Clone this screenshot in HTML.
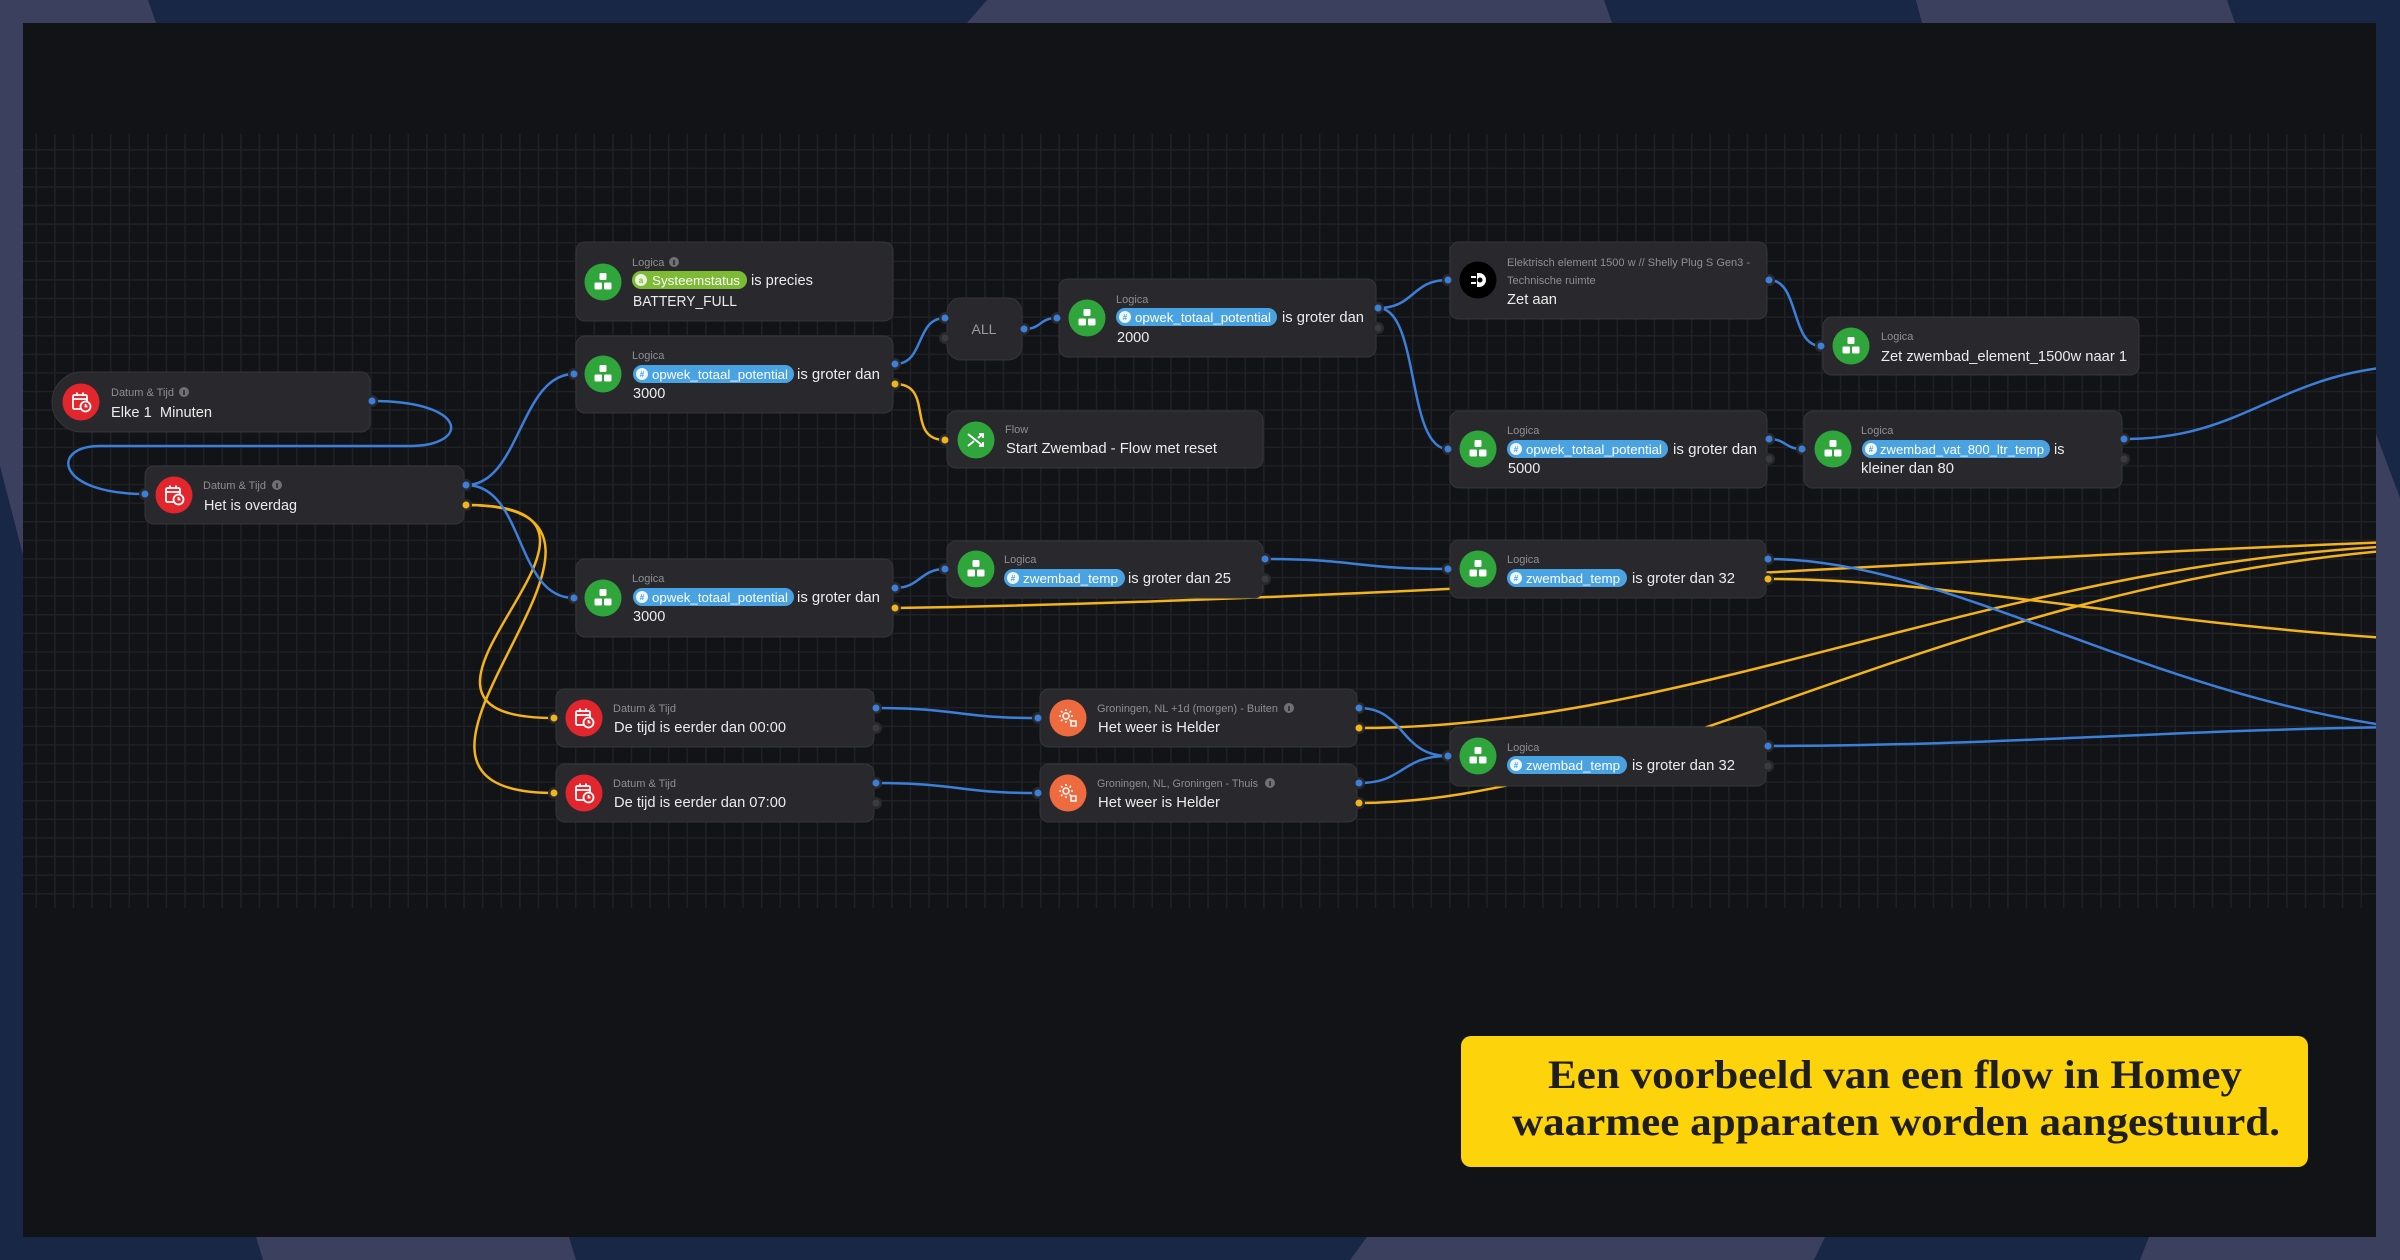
<!DOCTYPE html>
<html><head><meta charset="utf-8"><style>
html,body{margin:0;padding:0;background:#182745;width:2400px;height:1260px;overflow:hidden}
svg{display:block}
</style></head><body>
<svg width="2400" height="1260" viewBox="0 0 2400 1260" xmlns="http://www.w3.org/2000/svg">
<defs>
<pattern id="grid" x="35.5" y="130.4" width="18.6" height="18.6" patternUnits="userSpaceOnUse">
<path d="M0,0.75 H18.6 M0.75,0 V18.6" stroke="#1f2126" stroke-width="1.5" fill="none"/>
</pattern>
<clipPath id="cv"><rect x="23" y="23" width="2353" height="1214"/></clipPath>
</defs>
<!-- background -->
<rect x="0" y="0" width="2400" height="1260" fill="#182745"/>
<polygon points="0,0 148,0 156,23 23,23 23,555 0,466" fill="#3c405f"/>
<polygon points="987,0 1604,0 1612,23 967,23" fill="#3c405f"/>
<polygon points="1916,0 2227,0 2235,23 1922,23" fill="#3c405f"/>
<polygon points="2376,434 2400,498 2400,1260 2140,1260 2149,1237 2376,1237" fill="#3c405f"/>
<polygon points="256,1237 569,1237 576,1260 263,1260" fill="#3c405f"/>
<polygon points="1367,1237 1825,1237 1814,1260 1350,1260" fill="#3c405f"/>
<!-- canvas -->
<rect x="23" y="23" width="2353" height="1214" fill="#121317"/>
<rect x="23" y="134" width="2353" height="774" fill="url(#grid)"/>

<!-- connectors -->
<g clip-path="url(#cv)" fill="none" stroke-width="2.5" stroke-linecap="round">
<g stroke="#f2b31b">
<path d="M466,505 C680,505 340,718 554,718"/>
<path d="M466,505 C700,505 320,793 554,793"/>
<path d="M895,384 C935,384 905,440 945,440"/>
<path d="M895,608 C1400,600 1900,560 2420,541"/>
<path d="M1768,579 C1950,579 2150,625 2420,640"/>
<path d="M1359,728 C1700,728 2000,560 2420,545"/>
<path d="M1359,803 C1650,801 1950,580 2420,548"/>
</g>
<g stroke="#3c7fd9">
<path d="M372,401 C470,401 470,446 410,446 L100,446 C50,446 55,494 145,494"/>
<path d="M466,485 C520,485 520,374 574,374"/>
<path d="M466,485 C525,485 515,598 574,598"/>
<path d="M895,364 C925,364 915,318 945,318"/>
<path d="M1024,329 C1042,329 1039,318 1057,318"/>
<path d="M1378,308 C1415,308 1411,280 1448,280"/>
<path d="M1378,308 C1420,308 1406,449 1448,449"/>
<path d="M1769,280 C1800,280 1790,346 1821,346"/>
<path d="M1769,439 C1786,439 1785,449 1802,449"/>
<path d="M2124,439 C2250,439 2280,368 2420,365"/>
<path d="M895,588 C920,588 920,569 945,569"/>
<path d="M1265,559 C1356,559 1356,569 1448,569"/>
<path d="M1768,559 C1950,559 2150,700 2420,730"/>
<path d="M876,708 C960,708 955,718 1038,718"/>
<path d="M876,783 C960,783 955,793 1038,793"/>
<path d="M1359,708 C1405,708 1400,756 1448,756"/>
<path d="M1359,783 C1405,783 1400,756 1448,756"/>
<path d="M1768,746 C2000,746 2200,728 2420,727"/>
</g>
</g>

<!-- nodes -->
<g fill="#29292d" stroke="#35363a" stroke-width="1">
<path d="M82,372 H361 a9,9 0 0 1 9,9 V423 a9,9 0 0 1 -9,9 H82 a30,30 0 0 1 0,-60 Z"/>
<rect x="145" y="466" width="319" height="58" rx="9"/>
<rect x="576" y="242" width="317" height="79" rx="9"/>
<rect x="576" y="336" width="317" height="77" rx="9"/>
<rect x="947" y="298" width="75" height="62" rx="14"/>
<rect x="1059" y="279" width="317" height="78" rx="9"/>
<rect x="947" y="411" width="316" height="57" rx="9"/>
<rect x="576" y="559" width="317" height="78" rx="9"/>
<rect x="947" y="541" width="316" height="57" rx="9"/>
<rect x="1450" y="242" width="317" height="77" rx="9"/>
<rect x="1823" y="317" width="316" height="58" rx="9"/>
<rect x="1450" y="411" width="317" height="77" rx="9"/>
<rect x="1804" y="411" width="318" height="77" rx="9"/>
<rect x="1450" y="540" width="316" height="58" rx="9"/>
<rect x="556" y="689" width="318" height="58" rx="9"/>
<rect x="556" y="764" width="318" height="58" rx="9"/>
<rect x="1040" y="689" width="317" height="58" rx="9"/>
<rect x="1040" y="764" width="317" height="58" rx="9"/>
<rect x="1450" y="727" width="316" height="59" rx="9"/>
</g>

<!-- icon circles -->
<g>
<circle cx="81" cy="402" r="18.5" fill="#e3262e"/>
<circle cx="174" cy="495" r="18.5" fill="#e3262e"/>
<circle cx="584" cy="718" r="18.5" fill="#e3262e"/>
<circle cx="584" cy="793" r="18.5" fill="#e3262e"/>
<circle cx="603" cy="282" r="18.5" fill="#2fa53c"/>
<circle cx="603" cy="374" r="18.5" fill="#2fa53c"/>
<circle cx="1087" cy="318" r="18.5" fill="#2fa53c"/>
<circle cx="976" cy="440" r="18.5" fill="#2fa53c"/>
<circle cx="603" cy="598" r="18.5" fill="#2fa53c"/>
<circle cx="976" cy="569" r="18.5" fill="#2fa53c"/>
<circle cx="1478" cy="280" r="18.5" fill="#000"/>
<circle cx="1851" cy="346" r="18.5" fill="#2fa53c"/>
<circle cx="1478" cy="449" r="18.5" fill="#2fa53c"/>
<circle cx="1833" cy="449" r="18.5" fill="#2fa53c"/>
<circle cx="1478" cy="569" r="18.5" fill="#2fa53c"/>
<circle cx="1478" cy="756" r="18.5" fill="#2fa53c"/>
<circle cx="1068" cy="718" r="18.5" fill="#ee6b3f"/>
<circle cx="1068" cy="793" r="18.5" fill="#ee6b3f"/>
</g>

<!-- logica glyphs -->
<g fill="#fff">
<g transform="translate(603,282)"><rect x="-3.5" y="-9" width="7" height="7" rx="1.2"/><rect x="-8.5" y="0.5" width="7.5" height="7" rx="1.2"/><rect x="1" y="0.5" width="7.5" height="7" rx="1.2"/></g>
<g transform="translate(603,374)"><rect x="-3.5" y="-9" width="7" height="7" rx="1.2"/><rect x="-8.5" y="0.5" width="7.5" height="7" rx="1.2"/><rect x="1" y="0.5" width="7.5" height="7" rx="1.2"/></g>
<g transform="translate(1087,318)"><rect x="-3.5" y="-9" width="7" height="7" rx="1.2"/><rect x="-8.5" y="0.5" width="7.5" height="7" rx="1.2"/><rect x="1" y="0.5" width="7.5" height="7" rx="1.2"/></g>
<g transform="translate(603,598)"><rect x="-3.5" y="-9" width="7" height="7" rx="1.2"/><rect x="-8.5" y="0.5" width="7.5" height="7" rx="1.2"/><rect x="1" y="0.5" width="7.5" height="7" rx="1.2"/></g>
<g transform="translate(976,569)"><rect x="-3.5" y="-9" width="7" height="7" rx="1.2"/><rect x="-8.5" y="0.5" width="7.5" height="7" rx="1.2"/><rect x="1" y="0.5" width="7.5" height="7" rx="1.2"/></g>
<g transform="translate(1851,346)"><rect x="-3.5" y="-9" width="7" height="7" rx="1.2"/><rect x="-8.5" y="0.5" width="7.5" height="7" rx="1.2"/><rect x="1" y="0.5" width="7.5" height="7" rx="1.2"/></g>
<g transform="translate(1478,449)"><rect x="-3.5" y="-9" width="7" height="7" rx="1.2"/><rect x="-8.5" y="0.5" width="7.5" height="7" rx="1.2"/><rect x="1" y="0.5" width="7.5" height="7" rx="1.2"/></g>
<g transform="translate(1833,449)"><rect x="-3.5" y="-9" width="7" height="7" rx="1.2"/><rect x="-8.5" y="0.5" width="7.5" height="7" rx="1.2"/><rect x="1" y="0.5" width="7.5" height="7" rx="1.2"/></g>
<g transform="translate(1478,569)"><rect x="-3.5" y="-9" width="7" height="7" rx="1.2"/><rect x="-8.5" y="0.5" width="7.5" height="7" rx="1.2"/><rect x="1" y="0.5" width="7.5" height="7" rx="1.2"/></g>
<g transform="translate(1478,756)"><rect x="-3.5" y="-9" width="7" height="7" rx="1.2"/><rect x="-8.5" y="0.5" width="7.5" height="7" rx="1.2"/><rect x="1" y="0.5" width="7.5" height="7" rx="1.2"/></g>
</g>

<!-- calendar glyphs -->
<g fill="none" stroke="#fff" stroke-width="1.8">
<g transform="translate(81,402)"><rect x="-8" y="-7" width="14" height="14" rx="1.5"/><line x1="-8" y1="-3" x2="6" y2="-3"/><line x1="-4" y1="-9.5" x2="-4" y2="-6"/><line x1="2" y1="-9.5" x2="2" y2="-6"/><circle cx="4.5" cy="4.5" r="5" fill="#e3262e"/><path d="M4.5,2 V4.5 H6.5"/></g>
<g transform="translate(174,495)"><rect x="-8" y="-7" width="14" height="14" rx="1.5"/><line x1="-8" y1="-3" x2="6" y2="-3"/><line x1="-4" y1="-9.5" x2="-4" y2="-6"/><line x1="2" y1="-9.5" x2="2" y2="-6"/><circle cx="4.5" cy="4.5" r="5" fill="#e3262e"/><path d="M4.5,2 V4.5 H6.5"/></g>
<g transform="translate(584,718)"><rect x="-8" y="-7" width="14" height="14" rx="1.5"/><line x1="-8" y1="-3" x2="6" y2="-3"/><line x1="-4" y1="-9.5" x2="-4" y2="-6"/><line x1="2" y1="-9.5" x2="2" y2="-6"/><circle cx="4.5" cy="4.5" r="5" fill="#e3262e"/><path d="M4.5,2 V4.5 H6.5"/></g>
<g transform="translate(584,793)"><rect x="-8" y="-7" width="14" height="14" rx="1.5"/><line x1="-8" y1="-3" x2="6" y2="-3"/><line x1="-4" y1="-9.5" x2="-4" y2="-6"/><line x1="2" y1="-9.5" x2="2" y2="-6"/><circle cx="4.5" cy="4.5" r="5" fill="#e3262e"/><path d="M4.5,2 V4.5 H6.5"/></g>
<!-- flow glyph -->
<g transform="translate(976,440)" stroke-width="2"><path d="M-8,-6 L7,6 M-8,6 L-2,1 M2,-2 L7,-6 M3,-6 H7 V-2 M3,6 H7 V2"/></g>
<!-- weather glyphs -->
<g transform="translate(1068,718)" stroke-width="1.5"><circle cx="-2" cy="-2" r="3"/><path d="M-2,-9 V-7 M-2,3 V5 M-9,-2 H-7 M3,-2 H5 M-7,-7 L-5.5,-5.5 M1.5,1.5 L3,3 M-7,3 L-5.5,1.5 M1.5,-5.5 L3,-7"/><rect x="3" y="3" width="5" height="5"/></g>
<g transform="translate(1068,793)" stroke-width="1.5"><circle cx="-2" cy="-2" r="3"/><path d="M-2,-9 V-7 M-2,3 V5 M-9,-2 H-7 M3,-2 H5 M-7,-7 L-5.5,-5.5 M1.5,1.5 L3,3 M-7,3 L-5.5,1.5 M1.5,-5.5 L3,-7"/><rect x="3" y="3" width="5" height="5"/></g>
</g>
<!-- plug glyph -->
<g transform="translate(1478,280)" fill="#fff"><path d="M-1,-7 H1 A7,7 0 0 1 1,7 H-1 Z"/><rect x="-7" y="-4" width="5" height="2"/><rect x="-7" y="2" width="5" height="2"/><circle cx="2" cy="0" r="2.5" fill="#000"/></g>

<!-- info icons -->
<g>
<circle cx="184" cy="392" r="5" fill="#707175"/><rect x="183.2" y="390" width="1.6" height="5" fill="#29292d"/>
<circle cx="277" cy="485" r="5" fill="#707175"/><rect x="276.2" y="483" width="1.6" height="5" fill="#29292d"/>
<circle cx="674" cy="262" r="5" fill="#707175"/><rect x="673.2" y="260" width="1.6" height="5" fill="#29292d"/>
<circle cx="1289" cy="708" r="5" fill="#707175"/><rect x="1288.2" y="706" width="1.6" height="5" fill="#29292d"/>
<circle cx="1270" cy="783" r="5" fill="#707175"/><rect x="1269.2" y="781" width="1.6" height="5" fill="#29292d"/>
</g>

<!-- pills -->
<g>
<rect x="632" y="271" width="115" height="18" rx="9" fill="#7dbb35"/>
<rect x="633" y="365" width="161" height="18" rx="9" fill="#49a2e2"/>
<rect x="1116" y="308" width="161" height="18" rx="9" fill="#49a2e2"/>
<rect x="633" y="588" width="161" height="18" rx="9" fill="#49a2e2"/>
<rect x="1004" y="569" width="121" height="18" rx="9" fill="#49a2e2"/>
<rect x="1507" y="440" width="161" height="18" rx="9" fill="#49a2e2"/>
<rect x="1862" y="440" width="188" height="18" rx="9" fill="#49a2e2"/>
<rect x="1507" y="569" width="120" height="18" rx="9" fill="#49a2e2"/>
<rect x="1507" y="756" width="120" height="18" rx="9" fill="#49a2e2"/>
</g>
<g fill="#eef6ff">
<circle cx="641" cy="280" r="6" fill="#e9f5dc"/>
<circle cx="642" cy="374" r="6"/>
<circle cx="1125" cy="317" r="6"/>
<circle cx="642" cy="597" r="6"/>
<circle cx="1013" cy="578" r="6"/>
<circle cx="1516" cy="449" r="6"/>
<circle cx="1871" cy="449" r="6"/>
<circle cx="1516" cy="578" r="6"/>
<circle cx="1516" cy="765" r="6"/>
</g>
<g font-family="Liberation Sans, sans-serif" font-size="8" font-weight="bold" text-anchor="middle">
<text x="641" y="283" fill="#7dbb35">a</text>
<text x="642" y="377" fill="#49a2e2">#</text>
<text x="1125" y="320" fill="#49a2e2">#</text>
<text x="642" y="600" fill="#49a2e2">#</text>
<text x="1013" y="581" fill="#49a2e2">#</text>
<text x="1516" y="452" fill="#49a2e2">#</text>
<text x="1871" y="452" fill="#49a2e2">#</text>
<text x="1516" y="581" fill="#49a2e2">#</text>
<text x="1516" y="768" fill="#49a2e2">#</text>
</g>

<!-- pill text -->
<g font-family="Liberation Sans, sans-serif" font-size="13" fill="#ffffff" lengthAdjust="spacingAndGlyphs">
<text x="652" y="285" textLength="88" lengthAdjust="spacingAndGlyphs">Systeemstatus</text>
<text x="652" y="379" textLength="136" lengthAdjust="spacingAndGlyphs">opwek_totaal_potential</text>
<text x="1135" y="322" textLength="136" lengthAdjust="spacingAndGlyphs">opwek_totaal_potential</text>
<text x="652" y="602" textLength="136" lengthAdjust="spacingAndGlyphs">opwek_totaal_potential</text>
<text x="1023" y="583" textLength="95" lengthAdjust="spacingAndGlyphs">zwembad_temp</text>
<text x="1526" y="454" textLength="136" lengthAdjust="spacingAndGlyphs">opwek_totaal_potential</text>
<text x="1880" y="454" textLength="164" lengthAdjust="spacingAndGlyphs">zwembad_vat_800_ltr_temp</text>
<text x="1526" y="583" textLength="94" lengthAdjust="spacingAndGlyphs">zwembad_temp</text>
<text x="1526" y="770" textLength="94" lengthAdjust="spacingAndGlyphs">zwembad_temp</text>
</g>

<!-- labels -->
<g font-family="Liberation Sans, sans-serif" font-size="11" fill="#8e8f93">
<text x="111" y="396">Datum &amp; Tijd</text>
<text x="203" y="489">Datum &amp; Tijd</text>
<text x="632" y="266">Logica</text>
<text x="632" y="359">Logica</text>
<text x="1116" y="303">Logica</text>
<text x="1005" y="433">Flow</text>
<text x="632" y="582">Logica</text>
<text x="1004" y="563">Logica</text>
<text x="1507" y="266" textLength="243" lengthAdjust="spacingAndGlyphs">Elektrisch element 1500 w // Shelly Plug S Gen3 -</text>
<text x="1507" y="284">Technische ruimte</text>
<text x="1881" y="340">Logica</text>
<text x="1507" y="434">Logica</text>
<text x="1861" y="434">Logica</text>
<text x="1507" y="563">Logica</text>
<text x="613" y="712">Datum &amp; Tijd</text>
<text x="613" y="787">Datum &amp; Tijd</text>
<text x="1097" y="712" textLength="181" lengthAdjust="spacingAndGlyphs">Groningen, NL +1d (morgen) - Buiten</text>
<text x="1097" y="787" textLength="161" lengthAdjust="spacingAndGlyphs">Groningen, NL, Groningen - Thuis</text>
<text x="1507" y="751">Logica</text>
</g>

<!-- main text -->
<g font-family="Liberation Sans, sans-serif" font-size="14.5" fill="#ececec">
<text x="111" y="417" textLength="101" lengthAdjust="spacingAndGlyphs" xml:space="preserve">Elke 1  Minuten</text>
<text x="204" y="510" textLength="93" lengthAdjust="spacingAndGlyphs">Het is overdag</text>
<text x="751" y="285" textLength="62" lengthAdjust="spacingAndGlyphs">is precies</text>
<text x="633" y="306" textLength="104" lengthAdjust="spacingAndGlyphs">BATTERY_FULL</text>
<text x="797" y="379" textLength="83" lengthAdjust="spacingAndGlyphs">is groter dan</text>
<text x="633" y="398">3000</text>
<text x="1282" y="322" textLength="82" lengthAdjust="spacingAndGlyphs">is groter dan</text>
<text x="1117" y="342">2000</text>
<text x="1006" y="453" textLength="211" lengthAdjust="spacingAndGlyphs">Start Zwembad - Flow met reset</text>
<text x="797" y="602" textLength="83" lengthAdjust="spacingAndGlyphs">is groter dan</text>
<text x="633" y="621">3000</text>
<text x="1128" y="583" textLength="103" lengthAdjust="spacingAndGlyphs">is groter dan 25</text>
<text x="1507" y="304" textLength="50" lengthAdjust="spacingAndGlyphs">Zet aan</text>
<text x="1881" y="361" textLength="246" lengthAdjust="spacingAndGlyphs">Zet zwembad_element_1500w naar 1</text>
<text x="1673" y="454" textLength="84" lengthAdjust="spacingAndGlyphs">is groter dan</text>
<text x="1508" y="473">5000</text>
<text x="2054" y="454">is</text>
<text x="1861" y="473" textLength="93" lengthAdjust="spacingAndGlyphs">kleiner dan 80</text>
<text x="1632" y="583" textLength="103" lengthAdjust="spacingAndGlyphs">is groter dan 32</text>
<text x="614" y="732" textLength="172" lengthAdjust="spacingAndGlyphs">De tijd is eerder dan 00:00</text>
<text x="614" y="807" textLength="172" lengthAdjust="spacingAndGlyphs">De tijd is eerder dan 07:00</text>
<text x="1098" y="732" textLength="122" lengthAdjust="spacingAndGlyphs">Het weer is Helder</text>
<text x="1098" y="807" textLength="122" lengthAdjust="spacingAndGlyphs">Het weer is Helder</text>
<text x="1632" y="770" textLength="103" lengthAdjust="spacingAndGlyphs">is groter dan 32</text>
</g>
<text x="984" y="334" font-family="Liberation Sans, sans-serif" font-size="14" fill="#9b9c9f" text-anchor="middle">ALL</text>

<!-- sockets -->
<g fill="#29292d">
<circle cx="372" cy="401" r="6"/>
<circle cx="145" cy="494" r="6"/><circle cx="466" cy="485" r="6"/><circle cx="466" cy="505" r="6"/>
<circle cx="574" cy="374" r="6"/><circle cx="895" cy="364" r="6"/><circle cx="895" cy="384" r="6"/>
<circle cx="945" cy="318" r="6"/><circle cx="945" cy="338" r="6"/><circle cx="1024" cy="329" r="6"/>
<circle cx="1057" cy="318" r="6"/><circle cx="1378" cy="308" r="6"/><circle cx="1378" cy="328" r="6"/>
<circle cx="945" cy="440" r="6"/>
<circle cx="574" cy="598" r="6"/><circle cx="895" cy="588" r="6"/><circle cx="895" cy="608" r="6"/>
<circle cx="945" cy="569" r="6"/><circle cx="1265" cy="559" r="6"/><circle cx="1265" cy="579" r="6"/>
<circle cx="1448" cy="280" r="6"/><circle cx="1769" cy="280" r="6"/>
<circle cx="1821" cy="346" r="6"/>
<circle cx="1448" cy="449" r="6"/><circle cx="1769" cy="439" r="6"/><circle cx="1769" cy="459" r="6"/>
<circle cx="1802" cy="449" r="6"/><circle cx="2124" cy="439" r="6"/><circle cx="2124" cy="459" r="6"/>
<circle cx="1448" cy="569" r="6"/><circle cx="1768" cy="559" r="6"/><circle cx="1768" cy="579" r="6"/>
<circle cx="554" cy="718" r="6"/><circle cx="876" cy="708" r="6"/><circle cx="876" cy="728" r="6"/>
<circle cx="554" cy="793" r="6"/><circle cx="876" cy="783" r="6"/><circle cx="876" cy="803" r="6"/>
<circle cx="1038" cy="718" r="6"/><circle cx="1359" cy="708" r="6"/><circle cx="1359" cy="728" r="6"/>
<circle cx="1038" cy="793" r="6"/><circle cx="1359" cy="783" r="6"/><circle cx="1359" cy="803" r="6"/>
<circle cx="1448" cy="756" r="6"/><circle cx="1768" cy="746" r="6"/><circle cx="1768" cy="766" r="6"/>
</g>
<g fill="#3c7fd9">
<circle cx="372" cy="401" r="3.5"/>
<circle cx="145" cy="494" r="3.5"/><circle cx="466" cy="485" r="3.5"/>
<circle cx="574" cy="374" r="3.5"/><circle cx="895" cy="364" r="3.5"/>
<circle cx="945" cy="318" r="3.5"/><circle cx="1024" cy="329" r="3.5"/>
<circle cx="1057" cy="318" r="3.5"/><circle cx="1378" cy="308" r="3.5"/>
<circle cx="574" cy="598" r="3.5"/><circle cx="895" cy="588" r="3.5"/>
<circle cx="945" cy="569" r="3.5"/><circle cx="1265" cy="559" r="3.5"/>
<circle cx="1448" cy="280" r="3.5"/><circle cx="1769" cy="280" r="3.5"/>
<circle cx="1821" cy="346" r="3.5"/>
<circle cx="1448" cy="449" r="3.5"/><circle cx="1769" cy="439" r="3.5"/>
<circle cx="1802" cy="449" r="3.5"/><circle cx="2124" cy="439" r="3.5"/>
<circle cx="1448" cy="569" r="3.5"/><circle cx="1768" cy="559" r="3.5"/>
<circle cx="876" cy="708" r="3.5"/><circle cx="876" cy="783" r="3.5"/>
<circle cx="1038" cy="718" r="3.5"/><circle cx="1359" cy="708" r="3.5"/>
<circle cx="1038" cy="793" r="3.5"/><circle cx="1359" cy="783" r="3.5"/>
<circle cx="1448" cy="756" r="3.5"/><circle cx="1768" cy="746" r="3.5"/>
</g>
<g fill="#f2b31b">
<circle cx="466" cy="505" r="3.5"/><circle cx="895" cy="384" r="3.5"/><circle cx="945" cy="440" r="3.5"/>
<circle cx="895" cy="608" r="3.5"/><circle cx="1768" cy="579" r="3.5"/>
<circle cx="554" cy="718" r="3.5"/><circle cx="554" cy="793" r="3.5"/>
<circle cx="1359" cy="728" r="3.5"/><circle cx="1359" cy="803" r="3.5"/>
</g>
<g fill="#3a3b40">
<circle cx="945" cy="338" r="3.5"/><circle cx="1378" cy="328" r="3.5"/><circle cx="1265" cy="579" r="3.5"/>
<circle cx="1769" cy="459" r="3.5"/><circle cx="2124" cy="459" r="3.5"/>
<circle cx="876" cy="728" r="3.5"/><circle cx="876" cy="803" r="3.5"/><circle cx="1768" cy="766" r="3.5"/>
</g>

<!-- callout -->
<rect x="1461" y="1036" width="847" height="131" rx="10" fill="#fdd30b"/>
<g font-family="Liberation Serif, serif" font-weight="bold" font-size="40" fill="#1e1e1e">
<text x="1548" y="1088" textLength="694" lengthAdjust="spacingAndGlyphs">Een voorbeeld van een flow in Homey</text>
<text x="1512" y="1135" textLength="768" lengthAdjust="spacingAndGlyphs">waarmee apparaten worden aangestuurd.</text>
</g>
</svg>
</body></html>
